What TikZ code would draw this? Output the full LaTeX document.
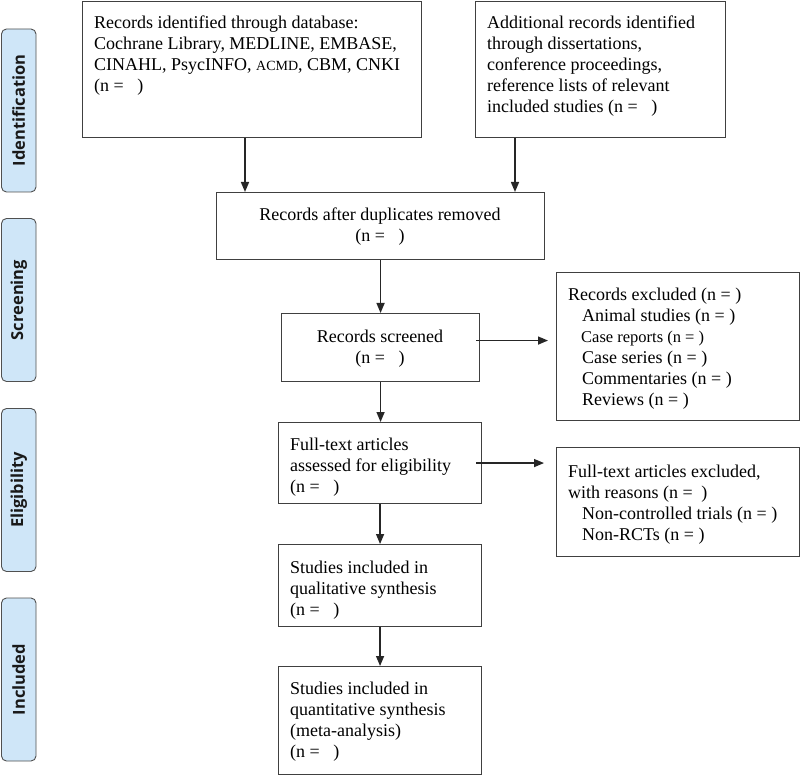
\documentclass[tikz,border=0pt]{standalone}
\usepackage{fontspec}
\setmainfont{Liberation Serif}
\newfontfamily\lblfont{Open Sans}
\usetikzlibrary{arrows.meta}
\newcommand\fs{\fontsize{18}{21}\selectfont}
\definecolor{lblfill}{HTML}{CFE6F8}
\definecolor{lbldraw}{HTML}{505050}
\definecolor{boxdraw}{HTML}{404040}
\tikzset{
  box/.style={draw=boxdraw, line width=1.1pt, rectangle, inner sep=0pt, anchor=north west},
  txt/.style={inner sep=0pt, anchor=north west, align=left, font=\fs},
  ctxt/.style={inner sep=0pt, anchor=north, align=center, font=\fs},
  arr/.style={draw=black!85, line width=1.5pt, -{Triangle[length=10pt,width=8pt]}},
  phase/.style={draw=lbldraw, fill=lblfill, line width=0.9pt, rounded corners=5pt,
    rotate=90, minimum width=163pt, minimum height=34.5pt, inner sep=0pt,
    font=\lblfont\bfseries\fontsize{16.5}{19}\selectfont, text=black!90}
}
\begin{document}
\begin{tikzpicture}[x=1pt,y=-1pt]
\useasboundingbox (0,0) rectangle (800,775);

% phase labels
\node[phase] (pid) at (18.75,110.5) {Identification};
\node[phase] (psc) at (18.75,300) {Screening};
\node[phase] (pel) at (18.75,490) {Eligibility};
\node[phase] (pin) at (18.75,679.5) {Included};

% boxes
\node[box, minimum width=339pt, minimum height=136pt] (box1) at (82,1) {};
\node[box, minimum width=250pt, minimum height=136pt] (box2) at (475,1) {};
\node[box, minimum width=328pt, minimum height=67pt] (dup) at (216,192) {};
\node[box, minimum width=198pt, minimum height=68pt] (scr) at (281,313) {};
\node[box, minimum width=243pt, minimum height=148pt] (excl) at (556,272) {};
\node[box, minimum width=203pt, minimum height=81pt] (full) at (278,422) {};
\node[box, minimum width=243pt, minimum height=109pt] (fexcl) at (556,447) {};
\node[box, minimum width=203pt, minimum height=82pt] (qual) at (278,544) {};
\node[box, minimum width=203pt, minimum height=108pt] (quant) at (278,666) {};

% texts
\node[txt] (box1t) at (94,13.3) {\strut Records identified through database:\\
Cochrane Library, MEDLINE, EMBASE,\\
CINAHL, PsycINFO, {\fontsize{14}{21}\selectfont ACMD}, CBM, CNKI\\
(n = \hspace{9pt})};
\node[txt] (box2t) at (487,13.3) {\strut Additional records identified\\
through dissertations,\\
conference proceedings,\\
reference lists of relevant\\
included studies (n = \hspace{9pt})};
\node[ctxt] (dupt) at (380,205.3) {\strut Records after duplicates removed\\
(n = \hspace{9pt})};
\node[ctxt] (scrt) at (380,327.3) {\strut Records screened\\
(n = \hspace{9pt})};
\node[txt] (exclt) at (568,285.3) {\strut Records excluded (n = )\\
\hspace{14pt}Animal studies (n = )\\
\hspace{13pt}{\fontsize{16.5}{21}\selectfont Case reports (n = )}\\
\hspace{14pt}Case series (n = )\\
\hspace{14pt}Commentaries (n = )\\
\hspace{14pt}Reviews (n = )};
\node[txt] (fullt) at (290,435.3) {\strut Full-text articles\\
assessed for eligibility\\
(n = \hspace{9pt})};
\node[txt] (fexclt) at (568,462.3) {\strut Full-text articles excluded,\\
with reasons (n = \hspace{4pt})\\
\hspace{14pt}Non-controlled trials (n = )\\
\hspace{14pt}Non-RCTs (n = )};
\node[txt] (qualt) at (290,558.3) {\strut Studies included in\\
qualitative synthesis\\
(n = \hspace{9pt})};
\node[txt] (quantt) at (290,679.3) {\strut Studies included in\\
quantitative synthesis\\
(meta-analysis)\\
(n = \hspace{9pt})};

% connectors
\draw[arr] ([xshift=163pt]box1.south west) -- ([xshift=163pt]box1.south west |- dup.north);
\draw[arr] ([xshift=40pt]box2.south west) -- ([xshift=40pt]box2.south west |- dup.north);
\draw[arr] (dup.south -| scr.north) -- (scr.north);
\draw[arr] (scr.south) -- (scr.south |- full.north);
\draw[arr] (full.south) -- (qual.north);
\draw[arr] (qual.south) -- (quant.north);
\draw[arr, shorten >=4pt] ([xshift=-4pt,yshift=7pt]scr.east) -- ([xshift=-4pt,yshift=7pt]scr.east -| excl.west);
\draw[arr, shorten >=6pt] ([xshift=-6pt]full.east) -- ([xshift=-6pt]full.east -| fexcl.west);
\end{tikzpicture}
\end{document}
